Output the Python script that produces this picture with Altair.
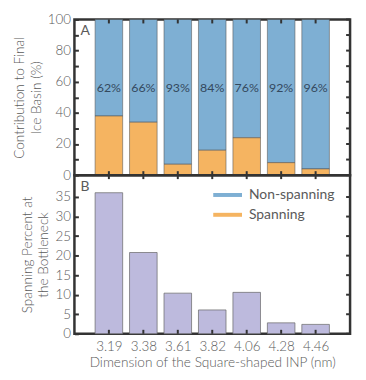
import altair as alt
import pandas as pd

sizes = ["3.19", "3.38", "3.61", "3.82", "4.06", "4.28", "4.46"]
non_spanning = [62, 66, 93, 84, 76, 92, 96]
spanning = [38, 34, 7, 16, 24, 8, 4]
bottleneck = [36.1, 20.8, 10.4, 6.1, 10.6, 2.8, 2.4]
series = ["Non-spanning", "Spanning"]
colors = ["#7EAFD3", "#F5B461"]
purple = "#BDBADD"

pos = list(range(1, len(sizes) + 1))
ticksA = list(range(0, 101, 10))
ticksB = list(range(0, 36, 5))
rows = []
for i, p in enumerate(pos):
    rows.append({"pos": p, "series": "Non-spanning", "y0": 100 - non_spanning[i], "y1": 100})
    rows.append({"pos": p, "series": "Spanning", "y0": 0, "y1": spanning[i]})
dfA = pd.DataFrame(rows)
dfB = pd.DataFrame({"pos": pos, "val": bottleneck})
dfT = pd.DataFrame({"pos": pos, "label": [f"{v}%" for v in non_spanning]})
dfL = pd.DataFrame({"series": series, "row": [0, 1]})
dfPos = pd.DataFrame({"pos": pos})
dfTA = pd.DataFrame({"v": ticksA})
dfTB = pd.DataFrame({"v": ticksB})

label_expr = "[''," + ",".join(f"'{s}'" for s in sizes) + ",''][datum.value]"
W = 278
HA = 157
HB = 160
AXC = "#333333"
TXT = "#5a5a5a"

xscale = alt.Scale(domain=[0, 8], nice=False, zero=False)
yscaleA = alt.Scale(domain=[0, 100], nice=False)
yscaleB = alt.Scale(domain=[0, 40.6], nice=False)
cscale = alt.Scale(domain=series, range=colors)

yAxisA = alt.Axis(orient="left", values=ticksA, offset=-4, tickSize=4,
                  tickColor=AXC, tickWidth=2, domain=False, grid=False,
                  labelExpr="datum.value % 20 == 0 ? datum.value : ''",
                  labelPadding=4, title=["Contribution to Final", "Ice Basin (%)"],
                  titlePadding=4)
yAxisB = alt.Axis(orient="left", values=ticksB, offset=-4, tickSize=4,
                  tickColor=AXC, tickWidth=2, domain=False, grid=False, labelPadding=4,
                  title=["Spanning Percent at", "the Bottleneck"], titlePadding=4)
xAxisB = alt.Axis(orient="bottom", values=pos, labelExpr=label_expr, ticks=False,
                  domain=False, grid=False, labelPadding=6,
                  title="Dimension of the Square-shaped INP (nm)", titlePadding=3)


def frame_ticks(H, yscale, yaxis, xaxis, dfT_):
    top = alt.Chart(dfPos).mark_rule(color=AXC, strokeWidth=2).encode(
        x=alt.X("pos:Q", scale=xscale, axis=xaxis), y=alt.value(0), y2=alt.value(4))
    bot = alt.Chart(dfPos).mark_rule(color=AXC, strokeWidth=2).encode(
        x=alt.X("pos:Q", scale=xscale, axis=xaxis), y=alt.value(H - 4), y2=alt.value(H))
    right = alt.Chart(dfT_).mark_rule(color=AXC, strokeWidth=2).encode(
        y=alt.Y("v:Q", scale=yscale, axis=yaxis), x=alt.value(W - 4), x2=alt.value(W))
    return [top, bot, right]


barsA = alt.Chart(dfA).mark_bar(stroke="#555", strokeWidth=0.8, strokeOpacity=0.7).transform_calculate(
    xl="datum.pos - 0.4", xr="datum.pos + 0.4"
).encode(
    x=alt.X("xl:Q", scale=xscale, axis=None),
    x2="xr:Q",
    y=alt.Y("y0:Q", scale=yscaleA, axis=yAxisA),
    y2="y1:Q",
    color=alt.Color("series:N", scale=cscale, legend=None),
)

textA = alt.Chart(dfT).mark_text(fontSize=12.5, color="#34495E").encode(
    x=alt.X("pos:Q", scale=xscale, axis=None),
    y=alt.Y("y:Q", scale=yscaleA, axis=yAxisA),
    text="label:N",
).transform_calculate(y="56")

labA = alt.Chart(pd.DataFrame({"t": ["A"]})).mark_text(
    fontSize=14, color=TXT, align="left", baseline="middle"
).encode(x=alt.value(6), y=alt.value(12), text="t:N")

panelA = alt.layer(barsA, textA, labA, *frame_ticks(HA, yscaleA, yAxisA, None, dfTA)).properties(width=W, height=HA)

barsB = alt.Chart(dfB).mark_bar(color=purple, stroke="#666", strokeWidth=1, strokeOpacity=0.7).transform_calculate(
    xl="datum.pos - 0.4", xr="datum.pos + 0.4"
).encode(
    x=alt.X("xl:Q", scale=xscale, axis=xAxisB),
    x2="xr:Q",
    y=alt.Y("val:Q", scale=yscaleB, axis=yAxisB),
    y2=alt.datum(0),
)

legScale = alt.Scale(domain=[0, 1], range=[20, 40])
legLines = alt.Chart(dfL).mark_rule(strokeWidth=4).encode(
    x=alt.value(140), x2=alt.value(169),
    y=alt.Y("row:Q", scale=legScale, axis=None),
    color=alt.Color("series:N", scale=cscale, legend=None),
)
legText = alt.Chart(dfL).mark_text(fontSize=14, color=TXT, align="left", baseline="middle").encode(
    x=alt.value(176),
    y=alt.Y("row:Q", scale=legScale, axis=None),
    text="series:N",
)

labB = alt.Chart(pd.DataFrame({"t": ["B"]})).mark_text(
    fontSize=14, color=TXT, align="left", baseline="middle"
).encode(x=alt.value(6), y=alt.value(12), text="t:N")

mainB = alt.layer(barsB, labB, *frame_ticks(HB, yscaleB, yAxisB, xAxisB, dfTB))
legB = alt.layer(legLines, legText)
panelB = alt.layer(mainB, legB).resolve_scale(y="independent").properties(width=W, height=HB)

chart = alt.vconcat(panelA, panelB, spacing=0, bounds="flush").configure(
    font="Lato"
).configure_view(
    stroke=AXC, strokeWidth=2.5
).configure_axis(
    labelFont="Lato", titleFont="Lato", labelFontSize=13.5, titleFontSize=13.75,
    labelColor=TXT, titleColor=TXT, titleFontWeight=300, labelFontWeight=300,
    titleLineHeight=17
).properties(padding={"left": 3, "top": 1, "right": 5, "bottom": 2})

chart.save("out.html", embed_options={"renderer": "svg", "actions": False})
